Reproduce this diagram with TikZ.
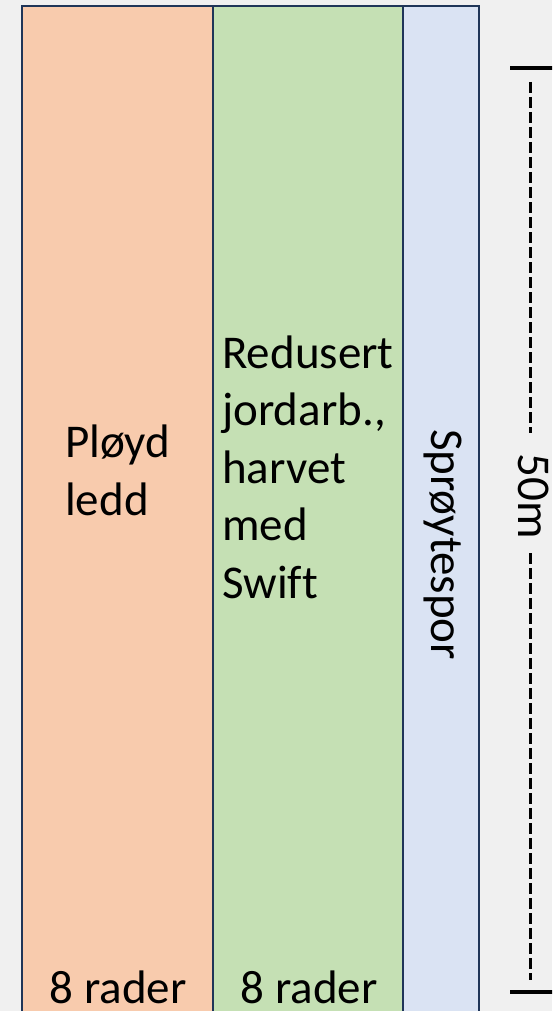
\documentclass[tikz,border=0pt]{standalone}
\usepackage{fontspec}
\setmainfont{Carlito}[Ligatures=NoCommon]
\definecolor{bg}{HTML}{F0F0F0}
\definecolor{stripA}{HTML}{F8CBAD}
\definecolor{stripB}{HTML}{C5E0B4}
\definecolor{stripC}{HTML}{DAE3F3}
\definecolor{edge}{HTML}{1F3558}
\begin{document}
\begin{tikzpicture}[x=1pt,y=-1pt,
  strip/.style={draw=edge,line width=2pt},
  lbl/.style={font=\fontsize{47}{57.5}\selectfont,inner sep=0pt,text=black},
  tickline/.style={line width=3.2pt,black},
  dimline/.style={line width=3pt,black,dash pattern=on 11pt off 4pt}]
\useasboundingbox (0,0) rectangle (552,1011);
\clip (0,0) rectangle (552,1011);
\fill[bg] (0,0) rectangle (552,1011);
\draw[strip,fill=stripA] (22,6.5) rectangle (213,1030);
\draw[strip,fill=stripB] (213,6.5) rectangle (403,1030);
\draw[strip,fill=stripC] (403,6.5) rectangle (479,1030);
\node[lbl,anchor=base west,align=left] (ploy) at (65,515) {Pløyd\\ledd};
\node[lbl,anchor=base west,align=left] (red) at (222,598) {Redusert\\jordarb.,\\harvet\\med\\Swift};
\node[lbl,anchor=base,rotate=-90] (spray) at (431,544.5) {Sprøytespor};
\node[lbl,anchor=base] (r1) at (118,1003) {8 rader};
\node[lbl,anchor=base] (r2) at (309,1003) {8 rader};
\node[lbl,anchor=base,rotate=-90] (len) at (518,496) {50m};
\coordinate (topA) at (510,68);
\coordinate (topB) at (560,68);
\coordinate (botA) at (510,992);
\coordinate (botB) at (560,992);
\coordinate (d1) at (530,82);
\coordinate (d2) at (530,433);
\coordinate (d3) at (530,553);
\coordinate (d4) at (530,980);
\draw[tickline] (topA) -- (topB);
\draw[tickline] (botA) -- (botB);
\draw[dimline] (d1) -- (d2);
\draw[dimline] (d3) -- (d4);
\end{tikzpicture}
\end{document}
